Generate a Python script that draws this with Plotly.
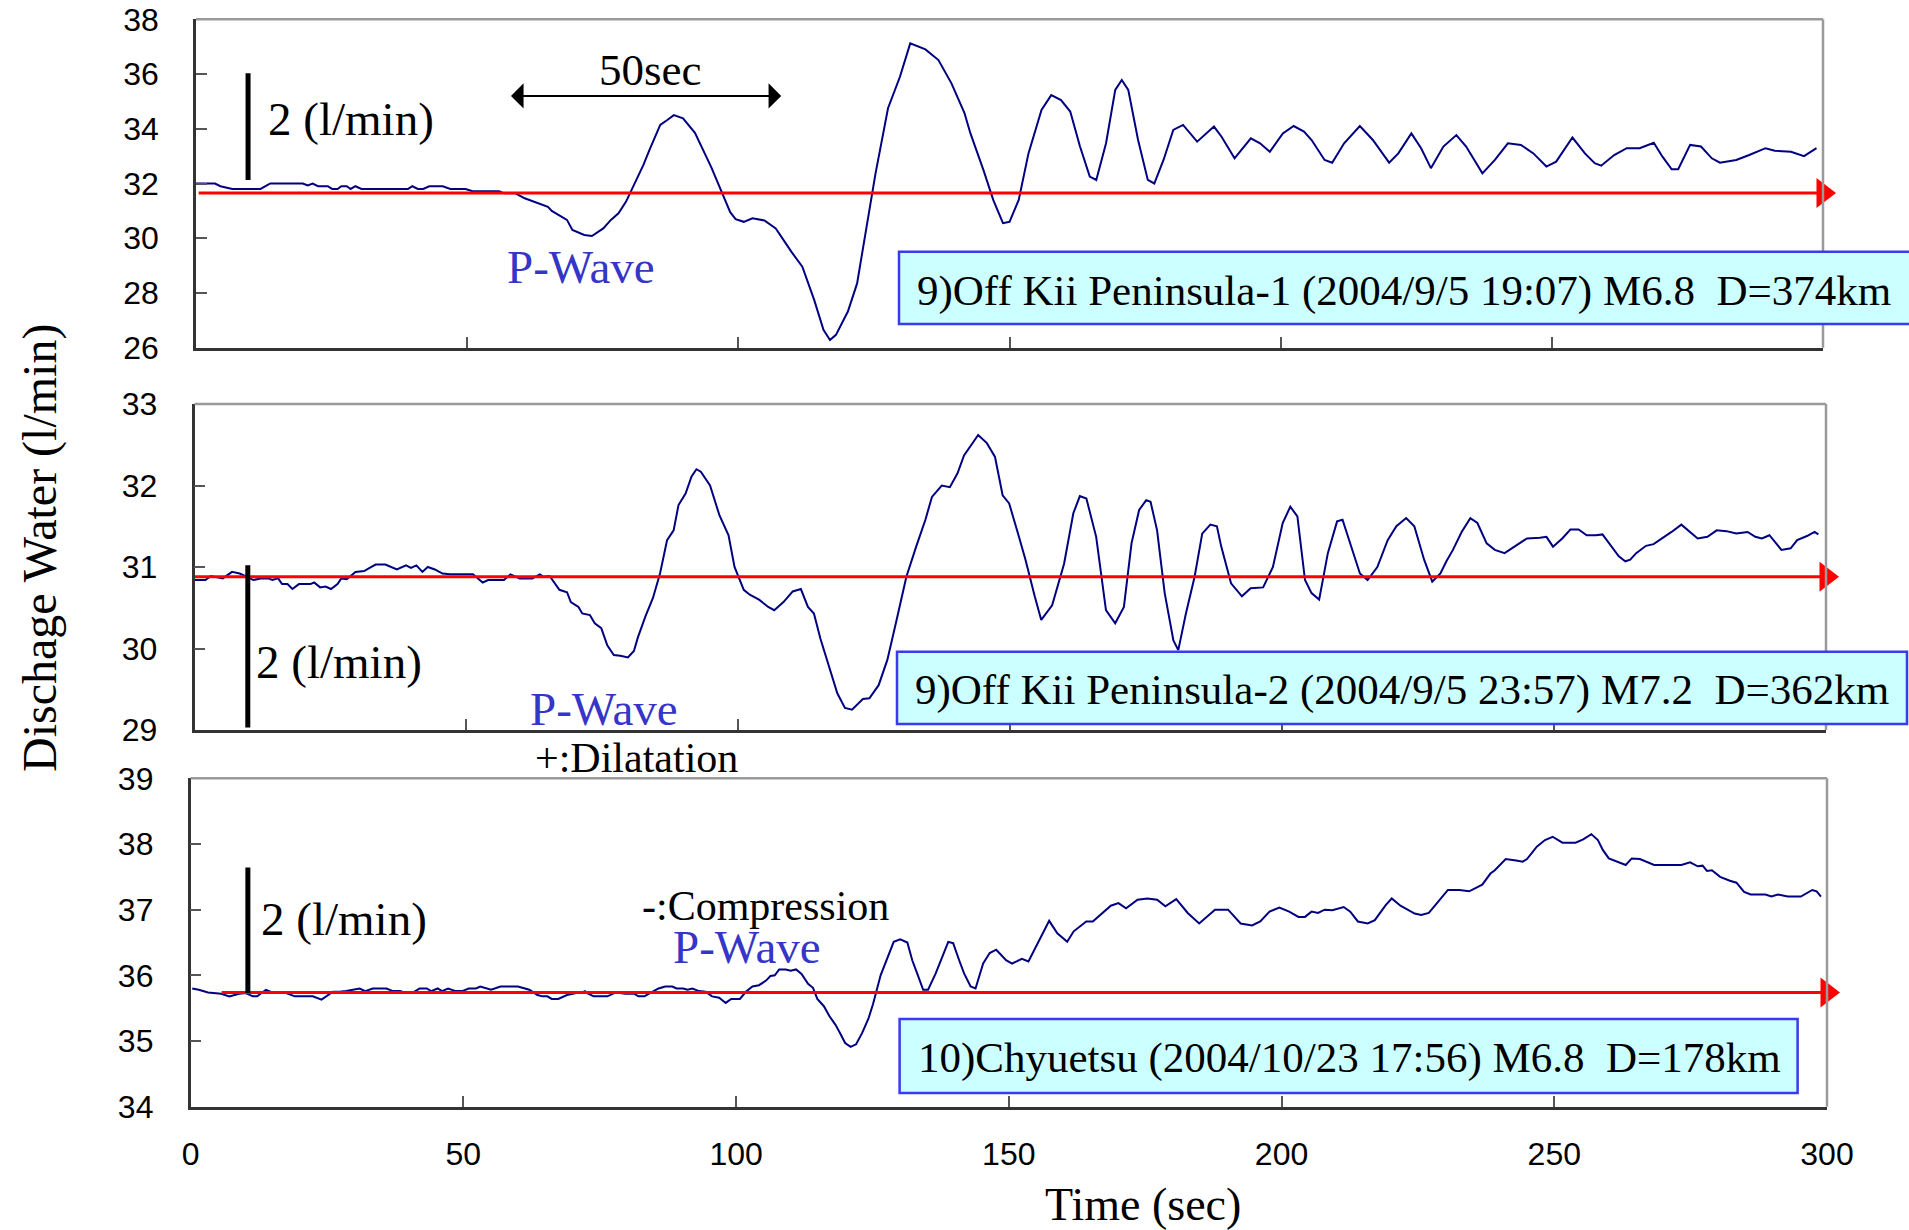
import plotly.graph_objects as go

W, H = 1909, 1230

# ---------------- data ----------------
t1 = [0, 3.5, 4.5, 6.7, 11.9, 13.7, 19.7, 20.6, 21.5, 22.5, 24.3, 25.1, 26.1, 26.8, 27.8, 28.5, 29.4, 30.5,
      39.1, 39.9, 40.9, 41.9, 43.0, 45.5, 46.9, 49.7, 51.0, 55.9, 56.8, 58.9, 60.6, 62.7, 64.9, 65.6, 67.0,
      68.4, 69.4, 71.6, 73.0, 74.0, 75.1, 76.5, 77.9, 79.3, 80.0, 81.1, 82.5, 83.6, 85.6, 86.9, 88.1, 89.8,
      92.0, 95.0, 96.5, 97.5, 98.5, 99.5, 101.0, 102.6, 104.8, 106.9, 108.3, 109.8, 111.8, 114.0, 115.7,
      116.9, 118.0, 120.2, 121.9, 123.6, 125.3, 127.6, 129.8, 131.7, 134.5, 136.9, 139.3, 141.7, 142.8,
      145.2, 147.0, 148.8, 150.0, 151.7, 153.5, 155.9, 157.7, 159.5, 161.2, 163.0, 164.8, 166.0, 167.8,
      169.5, 170.7, 171.9, 173.7, 175.5, 176.7, 178.4, 180.2, 182.0, 184.6, 187.7, 189.1, 191.5, 194.5,
      196.2, 198.0, 200.4, 202.4, 204.3, 205.7, 208.1, 209.5, 211.7, 214.6, 217.0, 220.0, 221.7, 224.1,
      225.9, 227.7, 230.0, 232.4, 234.2, 237.2, 239.5, 241.9, 244.3, 246.6, 249.0, 250.8, 253.8, 256.1,
      257.9, 259.1, 261.5, 263.8, 266.2, 268.8, 270.4, 272.1, 273.3, 275.5, 277.5, 279.5, 281.0, 284.0,
      286.4, 289.4, 291.1, 294.1, 296.5, 298.8]
v1 = [32.0, 32.0, 31.9, 31.8, 31.8, 32.0, 32.0, 31.93, 32.0, 31.9, 31.9, 31.8, 31.8, 31.9, 31.9, 31.8, 31.9, 31.8,
      31.8, 31.9, 31.8, 31.8, 31.9, 31.9, 31.8, 31.8, 31.72, 31.72, 31.64, 31.64, 31.46, 31.31, 31.15, 31.0, 30.85,
      30.67, 30.30, 30.12, 30.08, 30.2, 30.36, 30.67, 30.91, 31.34, 31.64, 32.06, 32.68, 33.22, 34.14, 34.32, 34.5, 34.38,
      33.85, 32.6, 31.9, 31.4, 30.95, 30.7, 30.6, 30.73, 30.65, 30.36, 29.94, 29.5, 28.96, 27.74, 26.65,
      26.28, 26.47, 27.32, 28.35, 30.42, 32.37, 34.75, 35.9, 37.12, 36.9, 36.51, 35.66, 34.57, 33.83,
      32.49, 31.4, 30.55, 30.6, 31.4, 33.1, 34.69, 35.23, 35.05, 34.63, 33.35, 32.25, 32.13, 33.47,
      35.42, 35.78, 35.42, 33.6, 32.13, 32.0, 32.86, 33.96, 34.14, 33.53, 34.08, 33.71, 32.92, 33.65,
      33.47, 33.16, 33.83, 34.1, 33.9, 33.59, 32.86, 32.76, 33.47, 34.1, 33.59, 32.76, 33.1, 33.83,
      33.29, 32.56, 33.35, 33.77, 33.35, 32.37, 32.86, 33.47, 33.41, 33.1, 32.62, 32.8, 33.68, 33.1,
      32.74, 32.65, 33.04, 33.29, 33.29, 33.49, 32.98, 32.52, 32.52, 33.41, 33.35, 32.92, 32.76, 32.86,
      33.04, 33.29, 33.2, 33.16, 33.0, 33.29]

t2 = [0, 2.0, 3.0, 5.2, 6.9, 8.3, 9.7, 10.8, 12.2, 13.6, 14.3, 15.4, 16.1, 17.1, 18.0, 19.2, 21.3, 22.0, 23.1,
      24.1, 25.1, 26.3, 27.0, 28.0, 29.6, 31.2, 32.2, 33.3, 35.1, 37.2, 38.9, 39.8, 40.8, 41.9, 42.9, 44.2,
      45.6, 47.0, 51.2, 53.0, 54.0, 56.9, 58.1, 59.8, 62.1, 63.5, 64.2, 65.3, 67.1, 68.5, 69.2, 70.6, 71.3,
      72.7, 73.6, 74.8, 75.9, 77.1, 78.3, 79.7, 80.8, 81.5, 82.9, 84.3, 85.6, 86.9, 88.1, 89.0, 90.3, 91.4,
      92.3, 93.1, 94.8, 96.5, 98.2, 99.3, 101.0, 102.1, 103.8, 105.5, 106.6, 108.3, 110.0, 111.5, 112.8,
      113.9, 115.1, 116.8, 118.2, 119.6, 120.9, 122.9, 124.1, 125.8, 127.4, 129.1, 130.9, 132.7, 134.4,
      135.6, 137.4, 138.9, 140.3, 141.5, 143.3, 144.1, 145.7, 147.2, 148.6, 149.8, 151.6, 152.8, 154.5,
      155.7, 157.7, 159.9, 161.6, 162.8, 164.0, 165.8, 167.6, 169.3, 170.9, 172.3, 173.7, 175.0, 175.8,
      177.0, 178.4, 180.0, 180.9, 182.3, 183.9, 185.3, 186.8, 188.0, 188.8, 190.6, 192.6, 194.2, 196.5,
      198.3, 200.1, 201.5, 202.8, 204.2, 205.4, 206.8, 208.4, 210.1, 211.1, 212.5, 214.3, 215.7, 217.5,
      219.4, 221.0, 222.8, 224.3, 226.1, 227.6, 229.1, 230.2, 231.4, 233.0, 234.6, 235.9, 237.6, 239.1,
      240.9, 242.7, 245.0, 247.4, 248.6, 249.8, 251.5, 253.0, 254.5, 256.0, 257.7, 258.9, 260.4, 261.9,
      263.1, 264.0, 265.1, 266.9, 268.3, 269.9, 271.6, 273.4, 274.6, 276.4, 278.2, 279.9, 281.7, 283.5,
      285.6, 287.0, 288.2, 289.6, 291.8, 293.5, 294.7, 296.5, 297.9, 298.6]
v2 = [30.84, 30.84, 30.89, 30.86, 30.94, 30.92, 30.88, 30.84, 30.86, 30.86, 30.84, 30.86, 30.79, 30.79, 30.73, 30.79, 30.79, 30.81, 30.75,
      30.76, 30.73, 30.79, 30.86, 30.85, 30.94, 30.95, 30.99, 31.03, 31.03, 30.97, 31.02, 30.99, 31.02, 30.94, 31.0, 30.97,
      30.92, 30.91, 30.91, 30.81, 30.84, 30.84, 30.91, 30.86, 30.86, 30.91, 30.88, 30.89, 30.72, 30.69, 30.57, 30.51, 30.43,
      30.41, 30.31, 30.25, 30.04, 29.92, 29.91, 29.89, 29.97, 30.13, 30.39, 30.62, 30.92, 31.33, 31.45, 31.76, 31.9, 32.11,
      32.2, 32.17, 32.0, 31.64, 31.39, 31.0, 30.72, 30.66, 30.6, 30.51, 30.47, 30.57, 30.7, 30.73, 30.51,
      30.43, 30.12, 29.74, 29.45, 29.27, 29.25, 29.38, 29.39, 29.55, 29.86, 30.35, 30.88, 31.25, 31.58,
      31.86, 32.0, 31.98, 32.15, 32.37, 32.54, 32.62, 32.52, 32.35, 31.88, 31.78, 31.37, 31.09, 30.64,
      30.35, 30.53, 31.04, 31.66, 31.87, 31.84, 31.37, 30.47, 30.31, 30.51, 31.29, 31.7, 31.82, 31.8,
      31.45, 30.68, 30.1, 29.98, 30.43, 30.88, 31.41, 31.52, 31.5, 31.25, 30.8, 30.64, 30.74, 30.75,
      31.0, 31.54, 31.74, 31.62, 30.84, 30.68, 30.6, 31.17, 31.56, 31.58, 31.29, 30.92, 30.84, 31.0,
      31.33, 31.5, 31.6, 31.5, 31.09, 30.82, 30.92, 31.07, 31.21, 31.43, 31.6, 31.54, 31.29, 31.21,
      31.17, 31.25, 31.35, 31.36, 31.37, 31.25, 31.35, 31.46, 31.46, 31.39, 31.39, 31.4, 31.27, 31.13,
      31.07, 31.09, 31.17, 31.26, 31.28, 31.35, 31.43, 31.52, 31.45, 31.35, 31.37, 31.45, 31.44, 31.41,
      31.43, 31.37, 31.35, 31.39, 31.21, 31.23, 31.33, 31.38, 31.43, 31.4]

t3 = [0.3, 1.5, 3.2, 5.6, 7.1, 8.9, 10.1, 11.4, 12.2, 13.8, 15.0, 17.5, 19.1, 22.4, 24.0, 26.1, 27.3, 28.5, 31.0,
      32.0, 33.4, 35.9, 37.1, 38.4, 39.2, 40.8, 42.0, 43.3, 44.1, 45.3, 46.1, 47.2, 48.6, 49.8, 51.0, 52.3,
      53.1, 54.3, 55.1, 56.8, 60.0, 62.1, 63.6, 64.5, 65.4, 66.2, 67.4, 69.0, 70.7, 71.5, 72.3, 72.7, 73.9,
      76.4, 78.0, 79.7, 81.3, 82.1, 83.2, 84.2, 85.8, 87.0, 88.3, 89.1, 90.3, 91.1, 92.0, 93.2, 94.4, 95.6,
      96.9, 98.1, 99.1, 100.7, 101.8, 103.0, 104.2, 105.5, 106.3, 107.1, 107.9, 109.1, 110.0, 111.0, 112.0,
      113.2, 114.1, 114.9, 116.1, 117.1, 118.2, 119.0, 120.0, 121.0, 122.0, 123.1, 124.3, 125.1, 126.5,
      128.9, 130.1, 131.4, 132.3, 133.2, 134.3, 135.2, 136.6, 138.9, 139.8, 140.9, 141.8, 143.0, 143.9,
      145.3, 146.5, 147.7, 149.5, 150.6, 152.4, 153.6, 155.4, 157.4, 158.9, 160.7, 161.9, 164.2, 165.4,
      167.2, 168.7, 170.1, 171.5, 173.6, 175.4, 177.2, 178.7, 180.7, 182.8, 184.9, 186.0, 187.8, 190.2,
      192.5, 194.6, 196.1, 197.8, 199.6, 201.4, 203.1, 204.3, 205.5, 206.7, 207.9, 209.3, 211.4, 212.6,
      214.0, 215.8, 217.1, 219.1, 220.2, 221.8, 223.2, 224.4, 225.6, 227.0, 228.5, 230.5, 232.6, 234.4,
      236.8, 238.3, 239.1, 241.1, 243.0, 244.2, 245.0, 246.8, 248.3, 249.7, 251.5, 253.9, 255.3, 256.8,
      258.0, 258.9, 260.0, 261.5, 263.1, 264.2, 265.7, 268.3, 273.3, 274.9, 276.3, 277.2, 278.0, 278.9,
      280.4, 282.2, 283.4, 284.8, 286.0, 288.7, 289.8, 291.0, 292.8, 295.2, 296.3, 297.3, 298.1, 298.9]
v3 = [35.80, 35.78, 35.74, 35.72, 35.68, 35.72, 35.73, 35.68, 35.68, 35.78, 35.74, 35.73, 35.68, 35.68, 35.63, 35.75, 35.75, 35.76, 35.80,
      35.76, 35.80, 35.80, 35.76, 35.76, 35.74, 35.74, 35.80, 35.80, 35.76, 35.80, 35.76, 35.80, 35.76, 35.76, 35.80, 35.80,
      35.83, 35.80, 35.78, 35.83, 35.83, 35.78, 35.70, 35.68, 35.68, 35.64, 35.64, 35.70, 35.73, 35.73, 35.76, 35.73, 35.68,
      35.68, 35.74, 35.72, 35.72, 35.68, 35.68, 35.73, 35.80, 35.83, 35.83, 35.80, 35.80, 35.78, 35.80, 35.76, 35.75, 35.68,
      35.66, 35.58, 35.64, 35.64, 35.75, 35.83, 35.85, 35.92, 35.99, 36.00, 36.09, 36.09, 36.07, 36.09, 36.02,
      35.87, 35.81, 35.64, 35.53, 35.38, 35.25, 35.13, 34.97, 34.91, 34.95, 35.12, 35.35, 35.56, 36.0,
      36.51, 36.55, 36.5, 36.23, 36.03, 35.78, 35.78, 36.03, 36.51, 36.49, 36.23, 36.03, 35.83, 35.8,
      36.18, 36.34, 36.39, 36.23, 36.18, 36.25, 36.21, 36.51, 36.83, 36.64, 36.51, 36.67, 36.82, 36.82,
      36.95, 37.06, 37.1, 37.02, 37.15, 37.17, 37.15, 37.05, 37.16, 36.95, 36.79, 36.87, 37.0, 37.0,
      36.79, 36.76, 36.82, 36.97, 37.03, 36.97, 36.89, 36.89, 36.97, 36.95, 37.0, 36.99, 37.04, 36.97,
      36.82, 36.79, 36.84, 37.07, 37.17, 37.06, 37.0, 36.94, 36.92, 36.95, 37.1, 37.3, 37.3, 37.28,
      37.38, 37.55, 37.6, 37.77, 37.75, 37.73, 37.77, 37.96, 38.06, 38.11, 38.02, 38.02, 38.07, 38.15,
      38.06, 37.91, 37.78, 37.73, 37.68, 37.78, 37.77, 37.68, 37.68, 37.72, 37.66, 37.67, 37.59, 37.6,
      37.5, 37.44, 37.41, 37.27, 37.23, 37.23, 37.2, 37.23, 37.2, 37.2, 37.25, 37.3, 37.28, 37.2]

times = [t1, t2, t3]
values = [v1, v2, v3]

# baseline (reference level) of each record
base_level = [31.65, 30.88, 35.74]
base_start = [0.5, 0.0, 5.7]
base_end = [300, 300, 300]

# 2 (l/min) scale bars
bar_x = [9.6, 9.8, 10.5]
bar_y0 = [32.13, 29.03, 35.73]
bar_y1 = [36.03, 31.02, 37.64]

y_ranges = [[26, 38], [29, 33], [34, 39]]
y_dticks = [2, 1, 1]
x_tickvals = [0, 50, 100, 150, 200, 250, 300]

event_labels = [
    "9)Off Kii Peninsula-1 (2004/9/5 19:07) M6.8\u00a0 D=374km",
    "9)Off Kii Peninsula-2 (2004/9/5 23:57) M7.2\u00a0 D=362km",
    "10)Chyuetsu (2004/10/23 17:56) M6.8\u00a0 D=178km",
]

# ---------------- layout geometry (pixels) ----------------
def px(x):
    return x / W

def py(y):
    return 1 - y / H

panel_x = [(196, 1823), (194.5, 1826), (190.6, 1827)]
panel_y = [(19.3, 347.7), (404, 730), (778.3, 1106.7)]

SERIF = "Liberation Serif, Times New Roman, serif"
SANS = "Liberation Sans Narrow, Arial Narrow, Liberation Sans, Arial, sans-serif"
NAVY = "#000080"
PBLUE = "#3535C8"

fig = go.Figure()
layout = dict(
    width=W, height=H,
    margin=dict(l=0, r=0, t=0, b=0, autoexpand=False),
    paper_bgcolor="white", plot_bgcolor="white",
    showlegend=False,
)

shapes = []
annotations = []

for i in range(3):
    xa = "x" if i == 0 else f"x{i+1}"
    ya = "y" if i == 0 else f"y{i+1}"
    xkey = "xaxis" if i == 0 else f"xaxis{i+1}"
    ykey = "yaxis" if i == 0 else f"yaxis{i+1}"
    layout[xkey] = dict(
        domain=[px(panel_x[i][0]), px(panel_x[i][1])], range=[0, 300], anchor=ya,
        tickvals=x_tickvals, ticks="inside", ticklen=11, tickwidth=1.5, tickcolor="#555555",
        showticklabels=(i == 2), showgrid=False, zeroline=False, automargin=False,
        showline=True, linecolor="#333333", linewidth=2.5,
        tickfont=dict(family=SANS, size=32, color="black"),
        ticklabelstandoff=17, ticklabeloverflow="allow",
    )
    layout[ykey] = dict(
        domain=[py(panel_y[i][1]), py(panel_y[i][0])], range=y_ranges[i], anchor=xa,
        dtick=y_dticks[i], ticks="inside", ticklen=11, tickwidth=1.5, tickcolor="#555555",
        showgrid=False, zeroline=False, automargin=False,
        showline=True, linecolor="#333333", linewidth=2.5,
        tickfont=dict(family=SANS, size=32, color="black"),
        ticklabelstandoff=28, ticklabeloverflow="allow",
    )
    # gray top / right frame
    shapes.append(dict(type="line", xref=f"{xa} domain", yref=f"{ya} domain",
                       x0=0, x1=1, y0=1, y1=1, line=dict(color="#9a9a9a", width=2.5)))
    shapes.append(dict(type="line", xref=f"{xa} domain", yref=f"{ya} domain",
                       x0=1, x1=1, y0=0, y1=1, line=dict(color="#9a9a9a", width=2.5)))

    # data trace
    fig.add_trace(go.Scatter(x=times[i], y=values[i], mode="lines", xaxis=xa, yaxis=ya,
                             line=dict(color=NAVY, width=2)))
    # red reference line with arrow head
    fig.add_trace(go.Scatter(x=[base_start[i], base_end[i]], y=[base_level[i], base_level[i]],
                             mode="lines", xaxis=xa, yaxis=ya, line=dict(color="#FF0000", width=3)))
    fig.add_trace(go.Scatter(x=[base_end[i]], y=[base_level[i]], mode="markers", xaxis=xa, yaxis=ya,
                             marker=dict(symbol="triangle-right", size=26, color="#FF0000",
                                         line=dict(width=0)), cliponaxis=False))
    # scale bar
    fig.add_trace(go.Scatter(x=[bar_x[i], bar_x[i]], y=[bar_y0[i], bar_y1[i]], mode="lines",
                             xaxis=xa, yaxis=ya, line=dict(color="black", width=5)))

# event boxes
boxes = [(899, 1915, 251.7, 324), (897, 1907, 651.7, 724), (899.6, 1797.6, 1019, 1093)]
box_text_pos = [(1403.5, 291), (1402, 690), (1349, 1058)]
for i in range(3):
    x0, x1, y0, y1 = boxes[i]
    shapes.append(dict(type="rect", xref="paper", yref="paper", x0=px(x0), x1=px(x1), y0=py(y1), y1=py(y0),
                       fillcolor="#CCFFFF", line=dict(color="#3A3AF0", width=2.5), layer="above"))
    annotations.append(dict(xref="paper", yref="paper", x=px(box_text_pos[i][0]), y=py(box_text_pos[i][1]),
                            text=event_labels[i], showarrow=False, xanchor="center", yanchor="middle",
                            font=dict(family=SERIF, size=43, color="black")))

def txt(s, x, y, size, color="black", xanchor="left", angle=0):
    annotations.append(dict(xref="paper", yref="paper", x=px(x), y=py(y), text=s, showarrow=False,
                            xanchor=xanchor, yanchor="middle", textangle=angle,
                            font=dict(family=SERIF, size=size, color=color)))

txt("2 (l/min)", 266, 119, 47)
txt("2 (l/min)", 254, 662, 47)
txt("2 (l/min)", 259, 919, 47)
txt("50sec", 650, 70, 45, xanchor="center")
txt("P-Wave", 581, 267, 47, color=PBLUE, xanchor="center")
txt("P-Wave", 604, 709, 47, color=PBLUE, xanchor="center")
txt("P-Wave", 747, 947, 47, color=PBLUE, xanchor="center")
txt("+:Dilatation", 636, 758, 42, xanchor="center")
txt("-:Compression", 765, 906, 42, xanchor="center")
txt("Time (sec)", 1143, 1204, 46, xanchor="center")
txt("Dischage Water (l/min)", 40, 548, 48, xanchor="center", angle=-90)

# 50 sec double arrow
arrow_t0, arrow_t1, arrow_level = 57.8, 107.9, 35.2
annotations.append(dict(x=arrow_t1, y=arrow_level, ax=arrow_t0, ay=arrow_level, xref="x", yref="y",
                        axref="x", ayref="y", text="", showarrow=True, arrowhead=1, startarrowhead=1,
                        arrowside="end+start", arrowwidth=2, arrowsize=2.1, startarrowsize=2.1,
                        arrowcolor="black", standoff=0, startstandoff=0))

layout["shapes"] = shapes
layout["annotations"] = annotations
fig.update_layout(**layout)
fig.write_html("out.html")
